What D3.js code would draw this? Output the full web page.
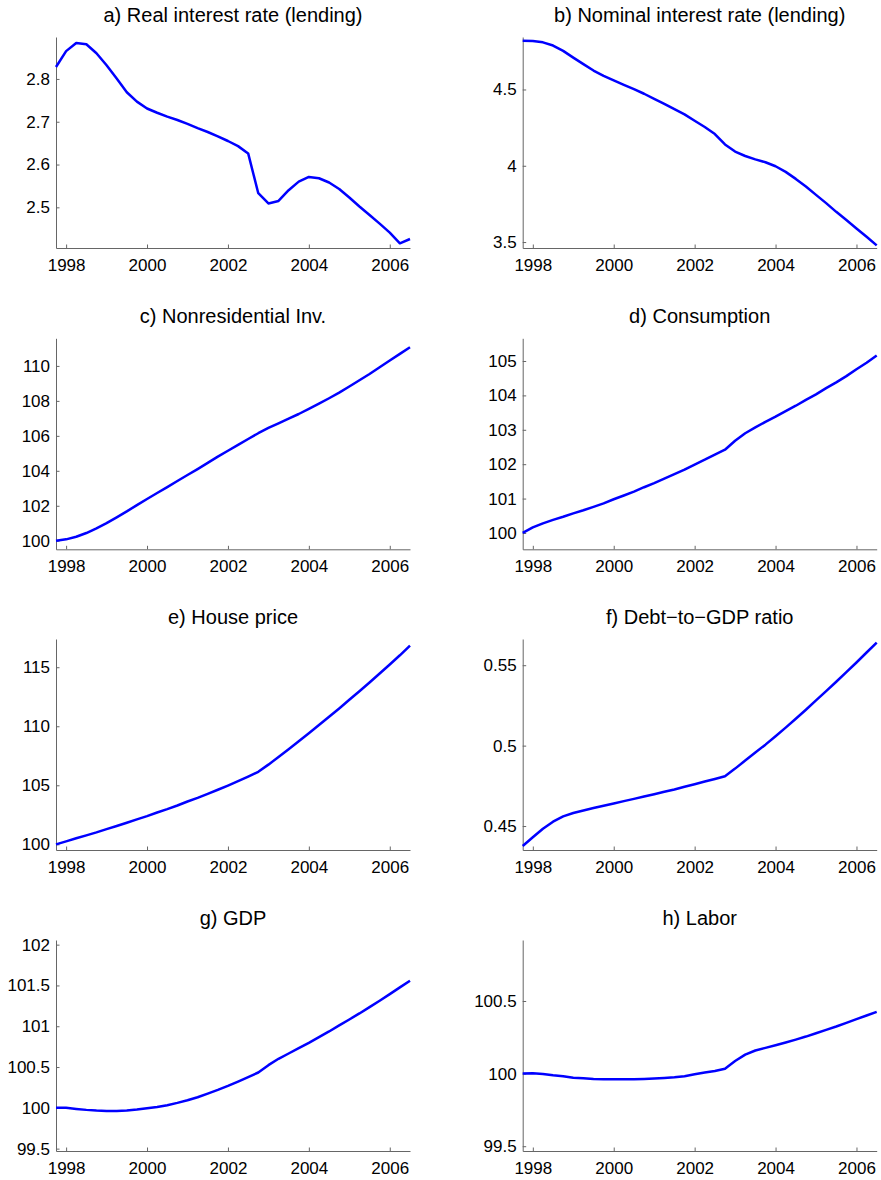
<!DOCTYPE html>
<html>
<head>
<meta charset="utf-8">
<script src="https://cdn.jsdelivr.net/npm/d3@7"></script>
<style>
    body { margin: 0; background: #fff; }
    svg { display: block; }
    .title { font-family: "Liberation Sans", Arial, Helvetica, sans-serif; font-size: 20px; fill: #000; }
    .axis text { font-family: "Liberation Sans", Arial, Helvetica, sans-serif; font-size: 17px; fill: #000; }
    .axis path, .axis line { stroke: #666; stroke-width: 1; }
    .series { fill: none; stroke: #0000ff; stroke-width: 2.5; stroke-linejoin: round; }
</style>
</head>
<body>
<div id="chart"></div>
<script>
// quarterly observations, 1997Q4 .. 2006Q3
var quarters = [1997.75,
    1998.00, 1998.25, 1998.50, 1998.75, 1999.00, 1999.25, 1999.50, 1999.75,
    2000.00, 2000.25, 2000.50, 2000.75, 2001.00, 2001.25, 2001.50, 2001.75,
    2002.00, 2002.25, 2002.50, 2002.75, 2003.00, 2003.25, 2003.50, 2003.75,
    2004.00, 2004.25, 2004.50, 2004.75, 2005.00, 2005.25, 2005.50, 2005.75,
    2006.00, 2006.25, 2006.50];

var realRate = [2.828, 2.865, 2.884, 2.881, 2.860, 2.832, 2.801, 2.769, 2.747, 2.731,
    2.721, 2.712, 2.704, 2.695, 2.685, 2.676, 2.666, 2.655, 2.643, 2.626,
    2.533, 2.509, 2.515, 2.540, 2.560, 2.571, 2.568, 2.558, 2.543, 2.523,
    2.502, 2.482, 2.462, 2.441, 2.416, 2.426];

var nominalRate = [4.820, 4.818, 4.809, 4.788, 4.753, 4.709, 4.666, 4.624, 4.589, 4.559,
    4.530, 4.502, 4.472, 4.439, 4.406, 4.371, 4.337, 4.295, 4.254, 4.208,
    4.140, 4.093, 4.064, 4.042, 4.023, 3.997, 3.960, 3.914, 3.864, 3.809,
    3.755, 3.698, 3.644, 3.589, 3.535, 3.478];

var nonresInv = [100.00, 100.08, 100.23, 100.44, 100.71, 101.01, 101.34, 101.68, 102.04, 102.39,
    102.73, 103.07, 103.42, 103.76, 104.10, 104.45, 104.81, 105.15, 105.48, 105.82,
    106.15, 106.45, 106.72, 106.98, 107.25, 107.54, 107.84, 108.15, 108.47, 108.82,
    109.18, 109.54, 109.92, 110.31, 110.69, 111.07];

var consumption = [100.00, 100.16, 100.28, 100.38, 100.47, 100.57, 100.66, 100.76, 100.86, 100.98,
    101.09, 101.20, 101.33, 101.45, 101.58, 101.71, 101.84, 101.99, 102.13, 102.28,
    102.42, 102.68, 102.90, 103.07, 103.23, 103.38, 103.54, 103.70, 103.87, 104.03,
    104.21, 104.38, 104.56, 104.76, 104.95, 105.16];

var housePrice = [100.00, 100.25, 100.51, 100.76, 101.01, 101.29, 101.55, 101.83, 102.11, 102.39,
    102.70, 102.98, 103.29, 103.63, 103.94, 104.28, 104.62, 104.98, 105.35, 105.74,
    106.14, 106.75, 107.40, 108.05, 108.73, 109.40, 110.10, 110.81, 111.51, 112.24,
    112.97, 113.71, 114.47, 115.23, 116.01, 116.83];

var debtGdp = [0.4376, 0.4430, 0.4483, 0.4527, 0.4560, 0.4581, 0.4597, 0.4612, 0.4626, 0.4640,
    0.4655, 0.4669, 0.4684, 0.4698, 0.4713, 0.4727, 0.4744, 0.4760, 0.4777, 0.4793,
    0.4810, 0.4857, 0.4907, 0.4957, 0.5006, 0.5058, 0.5112, 0.5167, 0.5223, 0.5281,
    0.5339, 0.5397, 0.5457, 0.5517, 0.5579, 0.5640];

var gdp = [100.000, 100.000, 99.987, 99.975, 99.966, 99.962, 99.962, 99.966, 99.979, 99.995,
    100.011, 100.032, 100.061, 100.093, 100.130, 100.175, 100.220, 100.269, 100.322, 100.376,
    100.433, 100.523, 100.601, 100.666, 100.732, 100.797, 100.867, 100.936, 101.010, 101.083,
    101.157, 101.235, 101.313, 101.394, 101.476, 101.558];

var labor = [100.000, 100.002, 99.998, 99.989, 99.982, 99.972, 99.968, 99.963, 99.961, 99.961,
    99.961, 99.961, 99.963, 99.966, 99.970, 99.975, 99.982, 99.995, 100.007, 100.018,
    100.034, 100.087, 100.131, 100.159, 100.177, 100.195, 100.214, 100.234, 100.255, 100.278,
    100.301, 100.324, 100.349, 100.375, 100.400, 100.425];

var titles = ["a) Real interest rate (lending)", "b) Nominal interest rate (lending)",
    "c) Nonresidential Inv.", "d) Consumption",
    "e) House price", "f) Debt\u2212to\u2212GDP ratio",
    "g) GDP", "h) Labor"];

var series = [realRate, nominalRate, nonresInv, consumption, housePrice, debtGdp, gdp, labor];

var yLimits = [[2.405, 2.898], [3.461, 4.844], [99.51, 111.58], [99.525, 105.66],
    [99.52, 117.39], [0.4351, 0.5663], [99.471, 102.057], [99.467, 100.92]];

var yTicks = [[2.5, 2.6, 2.7, 2.8], [3.5, 4, 4.5], [100, 102, 104, 106, 108, 110],
    [100, 101, 102, 103, 104, 105], [100, 105, 110, 115], [0.45, 0.5, 0.55],
    [99.5, 100, 100.5, 101, 101.5, 102], [99.5, 100, 100.5]];

var xTicks = [1998, 2000, 2002, 2004, 2006];
var xLimits = [1997.75, 2006.5];

// panel layout
var colLeft = [56, 522.7],
    rowTop = [37, 338.3, 639, 940],
    width = 354,
    height = 211;

var svg = d3.select("#chart")
    .append("svg")
    .attr("width", 881)
    .attr("height", 1180);

series.forEach(function(values, i) {
    var col = i % 2,
        row = Math.floor(i / 2);

    var g = svg.append("g")
        .attr("transform", "translate(" + colLeft[col] + "," + rowTop[row] + ")");

    var x = d3.scaleLinear()
        .domain(xLimits)
        .range([0, width]);

    var y = d3.scaleLinear()
        .domain(yLimits[i])
        .range([height, 0]);

    g.append("text")
        .attr("class", "title")
        .attr("x", width / 2)
        .attr("y", -15)
        .attr("text-anchor", "middle")
        .text(titles[i]);

    g.append("g")
        .attr("class", "axis")
        .attr("transform", "translate(0," + height + ")")
        .call(d3.axisBottom(x)
            .tickValues(xTicks)
            .tickFormat(function(d) { return d; })
            .tickSizeInner(-3.5)
            .tickSizeOuter(0)
            .tickPadding(10.5));

    g.append("g")
        .attr("class", "axis")
        .call(d3.axisLeft(y)
            .tickValues(yTicks[i])
            .tickFormat(function(d) { return d; })
            .tickSizeInner(-3.5)
            .tickSizeOuter(0)
            .tickPadding(6));

    g.append("path")
        .datum(values)
        .attr("class", "series")
        .attr("d", d3.line()
            .x(function(d, k) { return x(quarters[k]); })
            .y(function(d) { return y(d); }));
});
</script>
</body>
</html>
